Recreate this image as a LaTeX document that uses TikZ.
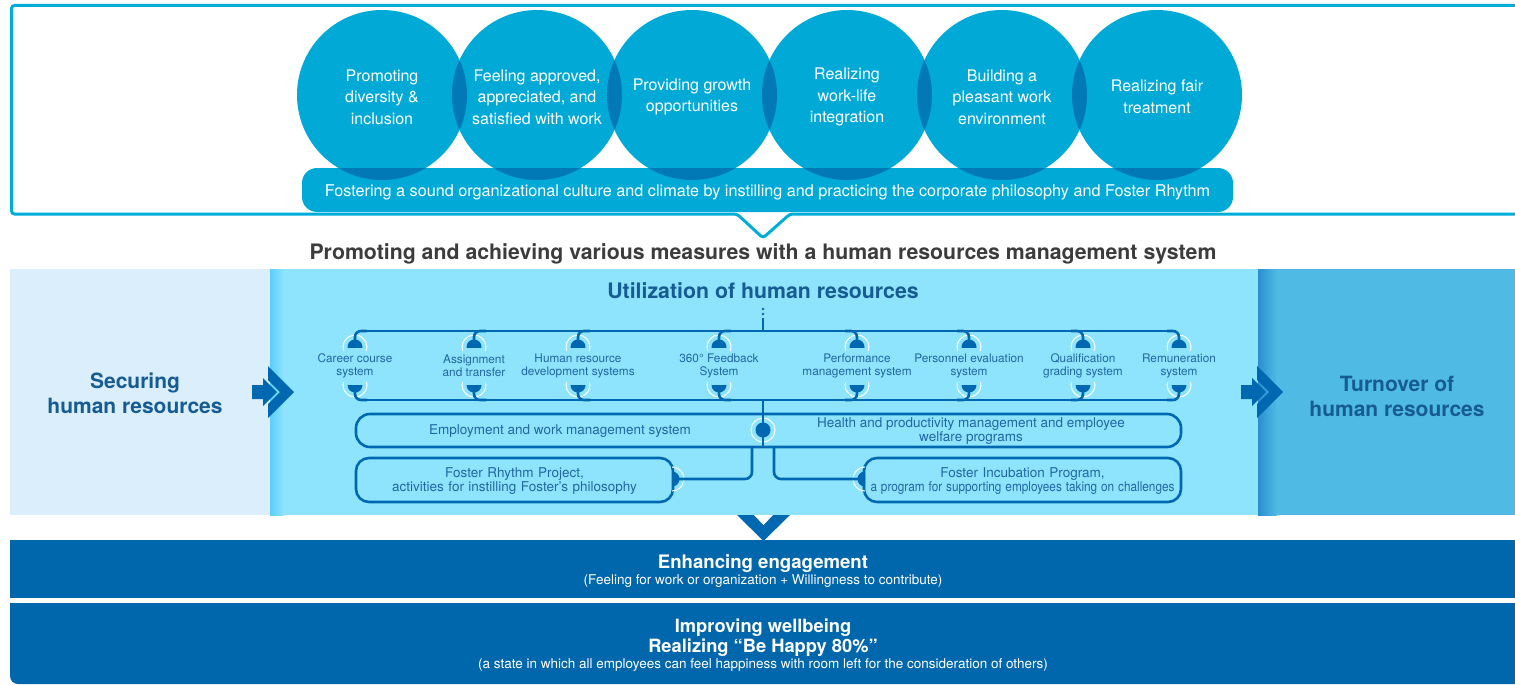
\documentclass[tikz,border=0pt]{standalone}
\usepackage{fontspec}
\usepackage{graphicx}
\setmainfont{TeX Gyre Heros}
\usetikzlibrary{calc}
\definecolor{cyanA}{HTML}{00A9D6}
\definecolor{cyanDark}{HTML}{0079B6}
\definecolor{frameCyan}{HTML}{00ADD8}
\definecolor{titleGray}{HTML}{3C3C3C}
\definecolor{paleBlue}{HTML}{DAEFFB}
\definecolor{midCyan}{HTML}{8EE4FD}
\definecolor{midEdge}{HTML}{5CCEF8}
\definecolor{sideBlue}{HTML}{4FBBE4}
\definecolor{sideEdge}{HTML}{2A8FD0}
\definecolor{navy}{HTML}{0068B0}
\definecolor{labelBlue}{HTML}{2166A5}
\definecolor{headBlue}{HTML}{165B93}
\definecolor{barBlue}{HTML}{0067AC}
\newcommand\myfs[2]{\fontsize{#1}{#2}\selectfont}

\begin{document}
\begin{tikzpicture}[x=1pt,y=-1pt,
  bubble/.style={circle, fill=cyanA, minimum size=170pt, inner sep=0pt},
  bubbletxt/.style={text=white, align=center, font=\myfs{16}{21.5}},
  sysline/.style={draw=navy, line width=2.6pt},
  syslabel/.style={text=labelBlue, align=center, font=\myfs{11.8}{13}, inner sep=0pt},
  boxlabel/.style={text=labelBlue, align=center, font=\myfs{13.5}{14.5}, inner sep=0pt},
  pillbox/.style={draw=navy, line width=2.6pt, rounded corners=13pt},
  halo/.style={draw=white, line width=1pt},
  headtxt/.style={text=headBlue, align=center, font=\myfs{21}{25}\bfseries},
]
\useasboundingbox (0,0) rectangle (1515,685);

% ---------- top frame with its notch
\draw[frameCyan, line width=3pt, rounded corners=3pt]
  (1530,5.5) -- (11.5,5.5) -- (11.5,214) -- (737,214) -- (763,238) -- (790,214) -- (1530,214);

% ---------- six values as overlapping bubbles
\foreach \i/\cx in {1/382,2/537,3/692,4/847,5/1002,6/1157}
  \node[bubble] (c\i) at (\cx,95) {};
\node[fill=cyanA, rounded corners=15pt, minimum width=931pt, minimum height=44pt, inner sep=0pt]
  (culture) at (767.5,190) {};
% darker lenses where bubbles overlap
\foreach \a/\b in {1/2,2/3,3/4,4/5,5/6}{
  \begin{scope}
    \clip (c\a.center) circle (85pt);
    \fill[cyanDark] (c\b.center) circle (85pt);
  \end{scope}}
\begin{scope}
  \clip[rounded corners=15pt] (302,168) rectangle (1233,212);
  \foreach \i in {1,...,6} \fill[cyanDark] (c\i.center) circle (85pt);
\end{scope}
\node[bubbletxt] (t1) at (382,97) {Promoting\\diversity \&\\inclusion};
\node[bubbletxt] (t2) at (537,97) {Feeling approved,\\appreciated, and\\satisfied with work};
\node[bubbletxt] (t3) at (692,97) {Providing growth\\opportunities};
\node[bubbletxt] (t4) at (847,97) {Realizing\\work-life\\integration};
\node[bubbletxt] (t5) at (1002,97) {Building a\\pleasant work\\environment};
\node[bubbletxt] (t6) at (1157,97) {Realizing fair\\treatment};
\node[text=white, font=\myfs{16.2}{19}] (culturetxt) at (767.5,192)
  {Fostering a sound organizational culture and climate by instilling and practicing the corporate philosophy and Foster Rhythm};

% ---------- heading
\node[text=titleGray, font=\myfs{21.3}{25}\bfseries] (title) at (763,254)
  {Promoting and achieving various measures with a human resources management system};

% ---------- three panels
\fill[paleBlue] (10,269) rectangle (270,515);
\fill[midCyan] (270,269) rectangle (1258,515);
\shade[left color=midEdge, right color=midCyan] (270,269) rectangle (284,515);
\fill[sideBlue] (1258,269) rectangle (1515,515);
\shade[left color=sideEdge, right color=sideBlue] (1258,269) rectangle (1277,515);

% arrows into and out of the middle panel
\foreach \s in {0,989}{
  \begin{scope}[shift={(\s,0)}]
    \fill[navy] (252,385) -- (263,385) -- (263,378) -- (277,392) -- (263,406) -- (263,399) -- (252,399) -- cycle;
    \fill[navy] (268,366) -- (294,392) -- (268,418) -- (268,404) -- (280,392) -- (268,380) -- cycle;
  \end{scope}}

\node[headtxt] (secure) at (135,393) {Securing\\human resources};
\node[headtxt] (turnover) at (1397,396) {Turnover of\\human resources};
\node[text=headBlue, font=\myfs{21.3}{25}\bfseries] (util) at (763,291) {Utilization of human resources};

% ---------- systems: bus lines, knobs and labels
\coordinate (hub) at (763,331);
\fill[navy] (763,309) circle (1.3pt);
\fill[navy] (763,314) circle (1.3pt);
\draw[navy, line width=2.2pt] (763,318) -- (hub);
\draw[sysline] (362,331) -- (1172,331);
\draw[sysline] (362,400) -- (1172,400);

\foreach \n/\x/\dd/\txt in {
  1/355/1/{Career course\\system},
  2/474/1/{Assignment\\and transfer},
  3/578/1/{Human resource\\development systems},
  4/719/1/{360° Feedback\\System},
  5/857/-1/{Performance\\management system},
  6/969/-1/{Personnel evaluation\\system},
  7/1083/-1/{Qualification\\grading system},
  8/1179/-1/{Remuneration\\system}}{
  \coordinate (kt\n) at (\x,347);
  \coordinate (kb\n) at (\x,385);
  % white halos
  \begin{scope}
    \clip (\x-14,333) rectangle (\x+14,350);
    \draw[halo] (kt\n) circle (12pt);
  \end{scope}
  \begin{scope}
    \clip (\x-14,382) rectangle (\x+14,398);
    \draw[halo] (kb\n) circle (12pt);
  \end{scope}
  % stems to the buses
  \draw[sysline, rounded corners=6pt] (\x,341) -- (\x,331) -- (\x+\dd*12,331);
  \draw[sysline, rounded corners=6pt] (\x,391) -- (\x,400) -- (\x+\dd*12,400);
  % half-disc knobs
  \begin{scope}
    \clip (\x-9,338) rectangle (\x+9,347);
    \fill[navy] (kt\n) circle (7.5pt);
  \end{scope}
  \begin{scope}
    \clip (\x-9,385) rectangle (\x+9,394);
    \fill[navy] (kb\n) circle (7.5pt);
  \end{scope}
  \node[syslabel] (sys\n) at (\x,366) {\txt};
}

% ---------- employment / health box with the central trunk
\draw[pillbox, rounded corners=14pt] (356,414) rectangle (1181,447);
\node[boxlabel] (emp) at (560,431) {Employment and work management system};
\node[boxlabel] (health) at (971,431) {Health and productivity management and employee\\welfare programs};
\coordinate (trunktop) at (763,400);
\coordinate (trunkknob) at (763,430);
\draw[halo] (trunkknob) circle (12pt);
\draw[sysline] (trunktop) -- (763,447);
\fill[navy] (trunkknob) circle (7.5pt);

% ---------- the two programme boxes
\draw[pillbox] (356,458) rectangle (673,502);
\draw[pillbox] (864,458) rectangle (1181,502);
\node[boxlabel, text width=310pt] (rhythm) at (514.5,481) {Foster Rhythm Project,\\activities for instilling Foster’s philosophy};
\node[boxlabel, text width=314pt] (incub) at (1022.5,481)
  {Foster Incubation Program,\\\resizebox{304pt}{\height}{a program for supporting employees taking on challenges}};
\coordinate (rk) at (672,479);
\coordinate (ik) at (865,479);
\begin{scope}
  \clip (672,464) rectangle (688,494);
  \draw[halo] (rk) circle (12pt);
\end{scope}
\begin{scope}
  \clip (849,464) rectangle (865,494);
  \draw[halo] (ik) circle (12pt);
\end{scope}
\draw[sysline, rounded corners=7pt] (752,447) -- (752,479) -- (rk);
\draw[sysline, rounded corners=7pt] (774,447) -- (774,479) -- (ik);
\begin{scope}
  \clip (672,470) rectangle (681,488);
  \fill[navy] (rk) circle (7.5pt);
\end{scope}
\begin{scope}
  \clip (856,470) rectangle (865,488);
  \fill[navy] (ik) circle (7.5pt);
\end{scope}

% ---------- pointer down to the outcome bars
\fill[navy] (737,515) -- (790,515) -- (763.5,541) -- cycle;
\fill[white] (754,515) -- (773,515) -- (763.5,525) -- cycle;

% ---------- outcome bars
\fill[barBlue] (10,540) rectangle (1515,598);
\node[text=white, font=\myfs{18.6}{22}\bfseries] (engage) at (763,564) {Enhancing engagement};
\node[text=white, font=\myfs{13.5}{16}] (engagesub) at (763,581) {(Feeling for work or organization + Willingness to contribute)};

\fill[barBlue] (1515,603) -- (10,603) -- (10,676) .. controls (10,680.4) and (13.6,684) .. (18,684) -- (1515,684) -- cycle;
\node[text=white, font=\myfs{18.3}{22}\bfseries] (well) at (763,628) {Improving wellbeing};
\node[text=white, font=\myfs{18.3}{22}\bfseries] (happy) at (763,648) {Realizing “Be Happy 80\%”};
\node[text=white, font=\myfs{13.5}{16}] (wellsub) at (763,665) {(a state in which all employees can feel happiness with room left for the consideration of others)};

\end{tikzpicture}
\end{document}
